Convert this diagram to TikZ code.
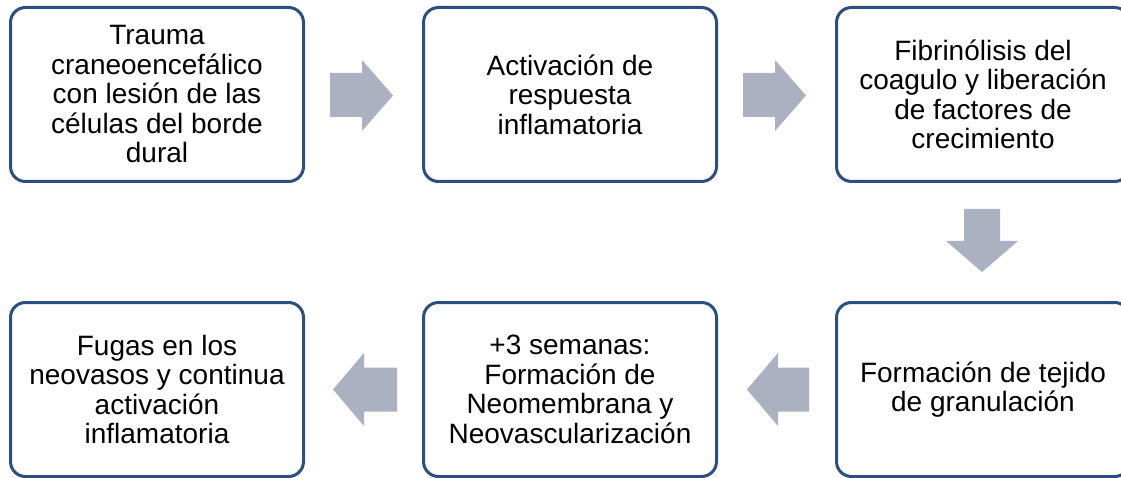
\documentclass[tikz,border=0pt]{standalone}
\usepackage{fontspec}
\setmainfont{Liberation Sans}
\definecolor{boxborder}{HTML}{2C4F80}
\definecolor{arrowfill}{HTML}{ABB1C0}
\begin{document}
\begin{tikzpicture}[x=1pt,y=-1pt,
  stagebox/.style={draw=boxborder, line width=3pt, rounded corners=15pt, fill=white,
    minimum width=293pt, minimum height=174pt, align=center, inner sep=0pt,
    font=\fontsize{28pt}{29.5pt}\selectfont},
  bigarrow/.style={fill=arrowfill, draw=none}]
\useasboundingbox (0,0) rectangle (1121,478);
\fill[white] (0,0) rectangle (1121,478);

\node[stagebox] (b1) at (157,94.5) {Trauma\\craneoencefálico\\con lesión de las\\células del borde\\dural};
\node[stagebox] (b2) at (570,94.5) {Activación de\\respuesta\\inflamatoria};
\node[stagebox] (b3) at (983,94.5) {Fibrinólisis del\\coagulo y liberación\\de factores de\\crecimiento};
\node[stagebox] (b6) at (983,389.5) {Formación de tejido\\de granulación};
\node[stagebox] (b5) at (570,389.5) {+3 semanas:\\Formación de\\Neomembrana y\\Neovascularización};
\node[stagebox] (b4) at (157,389.5) {Fugas en los\\neovasos y continua\\activación\\inflamatoria};

% right arrows
\fill[bigarrow] (330,73) -- (362,73) -- (362,60) -- (393,95.5) -- (362,131) -- (362,117) -- (330,117) -- cycle;
\fill[bigarrow] (743,73) -- (775,73) -- (775,60) -- (806,95.5) -- (775,131) -- (775,117) -- (743,117) -- cycle;
% down arrow
\fill[bigarrow] (964,209) -- (1000,209) -- (1000,241) -- (1018,241) -- (982,272) -- (946,241) -- (964,241) -- cycle;
% left arrows
\fill[bigarrow] (809,367.5) -- (778,367.5) -- (778,353) -- (747,389.5) -- (778,426) -- (778,411.5) -- (809,411.5) -- cycle;
\fill[bigarrow] (397,367.5) -- (364,367.5) -- (364,353) -- (333,389.5) -- (364,426) -- (364,411.5) -- (397,411.5) -- cycle;
\end{tikzpicture}
\end{document}
